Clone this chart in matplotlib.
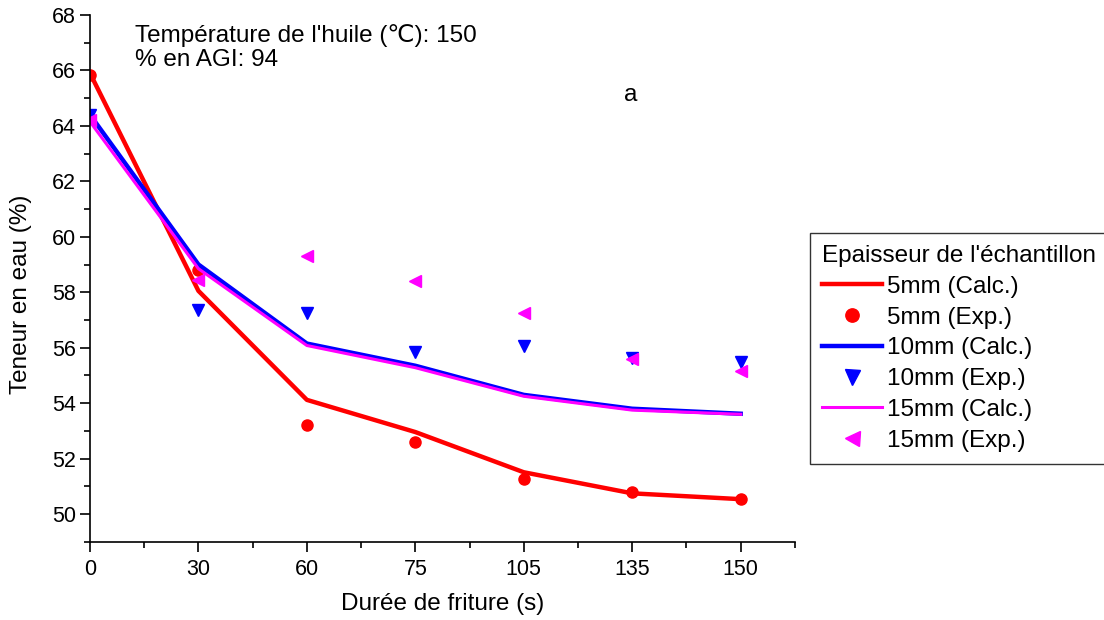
import matplotlib.pyplot as plt
from matplotlib.ticker import MultipleLocator
import numpy as np

plt.rcParams['font.family'] = ['Liberation Sans', 'DejaVu Sans']

temps = ['0', '30', '60', '75', '105', '135', '150']

calc_5mm = [65.9, 58.05, 54.12, 52.96, 51.51, 50.75, 50.54]
exp_5mm = [65.85, 58.8, 53.22, 52.6, 51.25, 50.8, 50.55]
calc_10mm = [64.4, 59.0, 56.15, 55.35, 54.3, 53.8, 53.62]
exp_10mm = [64.4, 57.35, 57.25, 55.86, 56.05, 55.62, 55.5]
calc_15mm = [64.15, 58.85, 56.08, 55.28, 54.25, 53.75, 53.6]
exp_15mm = [64.2, 58.45, 59.3, 58.4, 57.24, 55.6, 55.15]

x = np.arange(len(temps))

fig = plt.figure(figsize=(11.04, 6.2), dpi=100)
ax = fig.add_axes([0.0815, 0.126, 0.6385, 0.85])

ax.plot(x, calc_5mm, color='red', lw=3.2, label='5mm (Calc.)')
ax.plot(x, exp_5mm, 'o', color='red', ms=8, label='5mm (Exp.)')
ax.plot(x, calc_10mm, color='blue', lw=3.2, label='10mm (Calc.)')
ax.plot(x, exp_10mm, 'v', color='blue', ms=9, label='10mm (Exp.)')
ax.plot(x, calc_15mm, color='magenta', lw=2.2, label='15mm (Calc.)')
ax.plot(x, exp_15mm, '<', color='magenta', ms=9, label='15mm (Exp.)')

ax.set_xlim(0, 6.5)
ax.set_ylim(49, 68)
ax.set_xticks(x)
ax.set_xticklabels(temps)
ax.xaxis.set_minor_locator(MultipleLocator(0.5))
ax.yaxis.set_major_locator(MultipleLocator(2))
ax.yaxis.set_minor_locator(MultipleLocator(1))
ax.tick_params(which='major', direction='out', length=7, width=1.2, labelsize=15.5)
ax.tick_params(axis='x', which='major', pad=5)
ax.tick_params(axis='y', which='major', pad=3)
ax.tick_params(which='minor', direction='out', length=4, width=1.2)
ax.spines['top'].set_visible(False)
ax.spines['right'].set_visible(False)
ax.spines['left'].set_linewidth(1.2)
ax.spines['bottom'].set_linewidth(1.2)

ax.set_xlabel('Durée de friture (s)', fontsize=17.5)
ax.set_ylabel('Teneur en eau (%)', fontsize=17.5)
ax.xaxis.set_label_coords(0.5, -0.097)
ax.yaxis.set_label_coords(-0.082, 0.47)

ax.text(0.064, 0.983, "Température de l'huile (℃): 150\n% en AGI: 94",
        transform=ax.transAxes, fontsize=17.5, va='top', linespacing=1.15)
ax.text(0.767, 0.848, 'a', transform=ax.transAxes, fontsize=17.5,
        ha='center', va='center')

leg = fig.legend(loc='upper left', bbox_to_anchor=(810 / 1104, 1 - 233 / 620),
                 title="Epaisseur de l'échantillon", fontsize=17.5, title_fontsize=17.5,
                 frameon=True, fancybox=False, edgecolor='black', handlelength=2.45,
                 handletextpad=0.2, borderpad=0.5, labelspacing=0.36, borderaxespad=0,
                 markerscale=1.2)
leg._legend_box.align = 'left'
leg.get_frame().set_linewidth(1.0)

fig.savefig('out.png', dpi=100)
